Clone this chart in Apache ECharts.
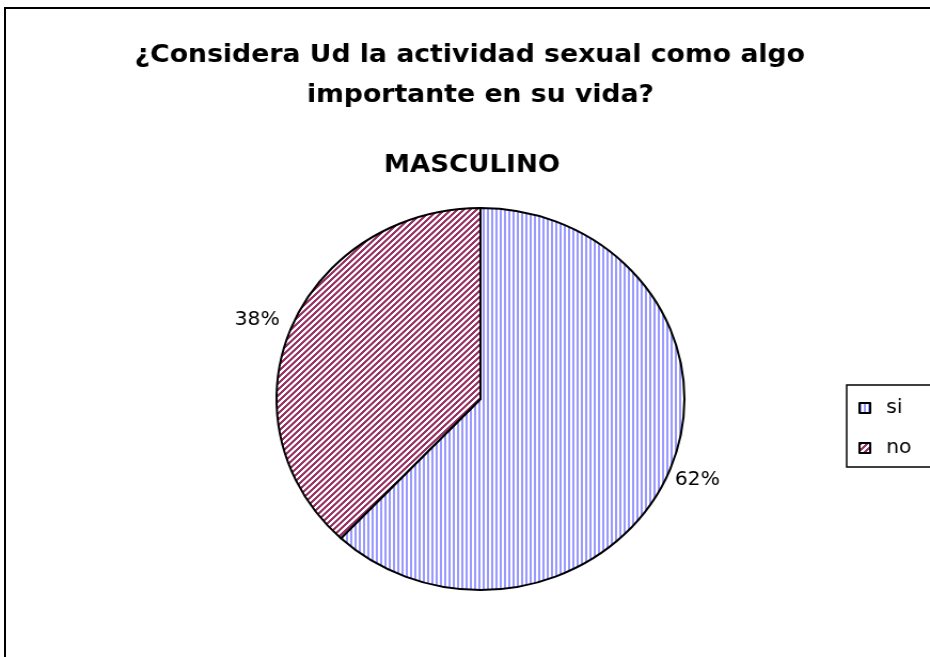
<!DOCTYPE html>
<html>
<head>
<meta charset="utf-8">
<title>Actividad sexual - Masculino</title>
<script src="https://cdn.jsdelivr.net/npm/echarts@6/dist/echarts.min.js"></script>
<style>
  html, body { margin: 0; padding: 0; background: #fff; overflow: hidden; }
  #frame {
    position: absolute; left: 4px; top: 7px; width: 960px; height: 700px;
    border-left: 2px solid #000; border-top: 2px solid #000;
    pointer-events: none; z-index: 2;
  }
  /* the chart is laid out on a narrower canvas and widened to the window */
  #chart {
    position: absolute; left: 0; top: 0; width: 871px; height: 657px;
    transform: scaleX(1.0677); transform-origin: 0 0;
  }
</style>
</head>
<body>
<div id="chart"></div>
<div id="frame"></div>
<script>
// Survey answers (share of respondents, %)
const categories = ['si', 'no'];
const values = [62, 38];

const titleLines = ['¿Considera Ud la actividad sexual como algo', 'importante en su vida?'];
const subtitleText = 'MASCULINO';

const FONT = '"DejaVu Sans", Verdana, sans-serif';

// Small tiles used as hatch fills for the two slices
function stripeTile(kind) {
  const c = document.createElement('canvas');
  const ctx = c.getContext('2d');
  if (kind === 'vertical') {
    c.width = 4; c.height = 4;
    ctx.fillStyle = '#ffffff';
    ctx.fillRect(0, 0, 4, 4);
    ctx.fillStyle = '#9999ff';
    ctx.fillRect(0, 0, 2, 4);
  } else {
    const n = 6;
    c.width = n; c.height = n;
    ctx.fillStyle = '#ffffff';
    ctx.fillRect(0, 0, n, n);
    ctx.fillStyle = '#993366';
    for (let y = 0; y < n; y++) {
      for (let x = 0; x < n; x++) {
        if ((x + y) % n < 3) ctx.fillRect(x, y, 1, 1);
      }
    }
  }
  return c;
}

const fills = [
  { image: stripeTile('vertical'), repeat: 'repeat' },
  { image: stripeTile('diagonal'), repeat: 'repeat' }
];

// nudges for the percentage labels, per slice
const labelNudge = [[-6, 8], [0, -6]];

const titleStyle = { fontFamily: FONT, fontSize: 25, fontWeight: 'bold', color: '#000', lineHeight: 40 };

const chart = echarts.init(document.getElementById('chart'), null, { renderer: 'canvas' });

chart.setOption({
  backgroundColor: '#ffffff',
  animation: false,
  title: [
    { text: titleLines[0], left: 440, top: 35, padding: 0, textAlign: 'center', textStyle: titleStyle },
    { text: titleLines[1], left: 450, top: 75, padding: 0, textAlign: 'center', textStyle: titleStyle },
    {
      text: subtitleText,
      left: 442, top: 150, padding: 0,
      textAlign: 'center',
      textStyle: { fontFamily: FONT, fontSize: 24.5, fontWeight: 'bold', color: '#000', lineHeight: 32 }
    }
  ],
  legend: {
    orient: 'vertical',
    left: 793, top: 385,
    padding: [13, 29, 9, 11],
    itemGap: 20,
    itemWidth: 10, itemHeight: 10,
    borderColor: '#000', borderWidth: 1.5,
    icon: 'rect',
    selectedMode: false,
    data: categories,
    textStyle: { fontFamily: FONT, fontSize: 19, color: '#000', lineHeight: 20, padding: [0, 0, 0, 10] }
  },
  series: [{
    type: 'pie',
    center: [450, 399],
    radius: 191,
    startAngle: 90,
    clockwise: true,
    avoidLabelOverlap: false,
    emphasis: { disabled: true },
    itemStyle: { borderColor: '#000', borderWidth: 2 },
    label: {
      show: true,
      position: 'outside',
      formatter: '{d}%',
      distanceToLabelLine: 3,
      fontFamily: FONT, fontSize: 19, color: '#000'
    },
    labelLine: { show: false, length: 8, length2: 0 },
    labelLayout: function (p) {
      const n = labelNudge[p.dataIndex];
      return { dx: n[0], dy: n[1] };
    },
    data: categories.map((name, i) => ({
      name: name,
      value: values[i],
      itemStyle: { color: fills[i] }
    }))
  }]
});
</script>
</body>
</html>
